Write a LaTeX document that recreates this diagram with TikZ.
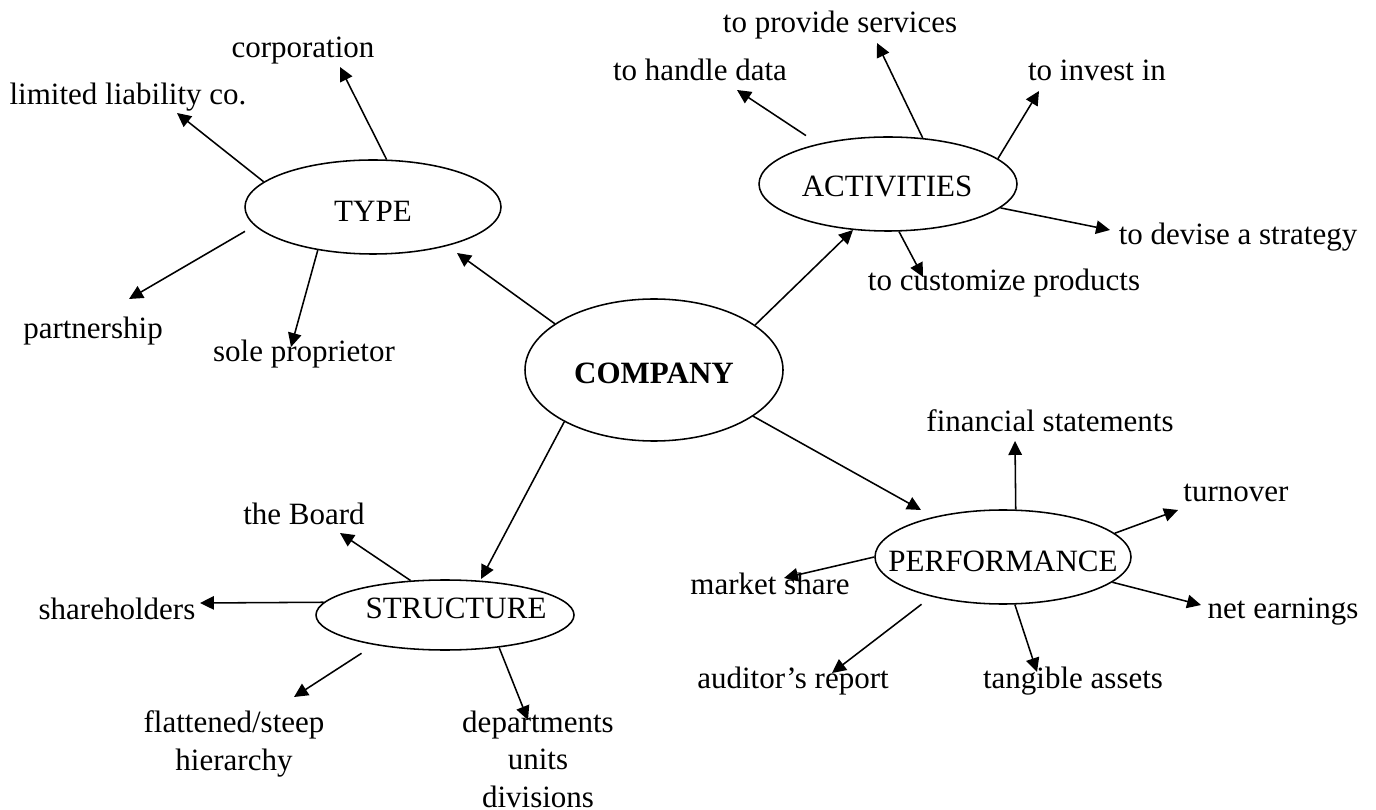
\documentclass[tikz,border=0pt]{standalone}
\usepackage{fontspec}
\setmainfont{Liberation Serif}
\usetikzlibrary{shapes.geometric}
\usetikzlibrary{arrows.meta}
\def\px{0.387pt}

\begin{document}
\begin{tikzpicture}[x=\px, y=-\px, line width=0.6pt,
  bubble/.style={draw, ellipse, inner sep=0pt},
  word/.style={inner sep=0pt, anchor=base, font=\fontsize{12}{14.5}\selectfont},
  lines/.style={inner sep=0pt, anchor=north, align=center, font=\fontsize{12}{14.5}\selectfont},
  arr/.style={-{Triangle[length=5.4pt, width=5.2pt]}}]

\useasboundingbox (0,0) rectangle (1376,810);

% CENTRE
\node[bubble, minimum width=258*\px, minimum height=142*\px] (company) at (654,370) {};
\node[word] (companytxt) at (654,384) {\textbf{COMPANY}};

% TOPICS
\node[bubble, minimum width=256*\px, minimum height=94*\px] (type) at (373,207) {};
\node[word] (typetxt) at (373,222) {TYPE};
\node[bubble, minimum width=258*\px, minimum height=94*\px] (act) at (888,184) {};
\node[word] (acttxt) at (887,197) {ACTIVITIES};
\node[bubble, minimum width=258*\px, minimum height=70*\px] (struct) at (445,615) {};
\node[word] (structtxt) at (456,618) {STRUCTURE};
\node[bubble, minimum width=256*\px, minimum height=94*\px] (perf) at (1003,557) {};
\node[word] (perftxt) at (1003,571) {PERFORMANCE};

% links from the centre
\coordinate (typetip) at (457,253);
\coordinate (acttip) at (853,230);
\coordinate (structtip) at (481,579);
\coordinate (perftip) at (921,510);
\draw[arr] (company.155.7) -- (typetip);
\draw[arr] (company.24.1) -- (acttip);
\draw[arr] (company.210.8) -- (structtip);
\draw[arr] (company.335.9) -- (perftip);

% TYPE
\node[word] (corp) at (303,58) {corporation};
\node[word] (llc) at (128,105) {limited liability co.};
\node[word] (partner) at (93,339) {partnership};
\node[word] (sole) at (304,362) {sole proprietor};
\coordinate (corptip) at (340,67);
\coordinate (llctip) at (177,113);
\coordinate (partnertip) at (129,299);
\coordinate (soletip) at (291,347);
\draw[arr] (type.74.8) -- (corptip);
\draw[arr] (type.167) -- (llctip);
\draw[arr, shorten <=4.3pt] (type.189.8) -- (partnertip);
\draw[arr] (type.218.9) -- (soletip);

% ACTIVITIES
\node[word] (serv) at (840,33) {to provide services};
\node[word] (data) at (700,81) {to handle data};
\node[word] (invest) at (1097,81) {to invest in};
\node[word] (devise) at (1238,245) {to devise a strategy};
\node[word] (custom) at (1004,291) {to customize products};
\coordinate (servtip) at (877,43);
\coordinate (datatip) at (737,90);
\coordinate (investtip) at (1039,91);
\coordinate (devisetip) at (1110,230);
\coordinate (customtip) at (923,277);
\draw[arr] (act.53.3) -- (servtip);
\draw[arr, shorten <=5.7pt] (act.150.2) -- (datatip);
\draw[arr] (act.13.3) -- (investtip);
\draw[arr] (act.348.1) -- (devisetip);
\draw[arr] (act.283.4) -- (customtip);

% STRUCTURE
\node[word] (board) at (304,525) {the Board};
\node[word] (share) at (117,619) {shareholders};
\node[lines] (flat) at (234,710) {flattened/steep\\hierarchy};
\node[lines] (dept) at (538,710) {departments\\units\\divisions};
\coordinate (boardtip) at (340,533);
\coordinate (sharetip) at (200,603);
\coordinate (flattip) at (294,697);
\coordinate (depttip) at (528,720);
\draw[arr] (struct.135) -- (boardtip);
\draw[arr] (struct.174.6) -- (sharetip);
\draw[arr, shorten <=5.9pt] (struct.203.7) -- (flattip);
\draw[arr] (struct.329.7) -- (depttip);

% PERFORMANCE
\node[word] (fin) at (1050,432) {financial statements};
\node[word] (turn) at (1236,502) {turnover};
\node[word] (market) at (770,594) {market share};
\node[word] (net) at (1283,618) {net earnings};
\node[word] (aud) at (793,688) {auditor’s report};
\node[word] (tang) at (1073,688) {tangible assets};
\coordinate (fintip) at (1015,441);
\coordinate (turntip) at (1178,510);
\coordinate (markettip) at (784,578);
\coordinate (nettip) at (1201,605);
\coordinate (audtip) at (832,673);
\coordinate (tangtip) at (1037,672);
\draw[arr] (perf.75.7) -- (fintip);
\draw[arr] (perf.12.8) -- (turntip);
\draw[arr] (perf.180) -- (markettip);
\draw[arr] (perf.347.2) -- (nettip);
\draw[arr, shorten <=4.8pt] (perf.209.9) -- (audtip);
\draw[arr] (perf.284) -- (tangtip);

\end{tikzpicture}
\end{document}
